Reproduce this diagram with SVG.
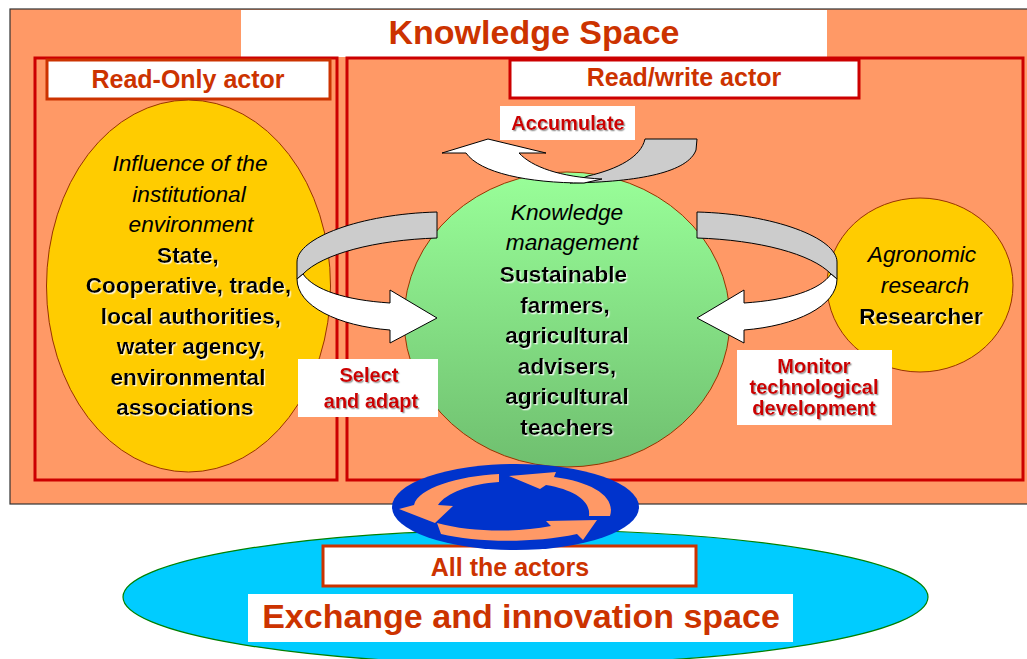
<svg xmlns="http://www.w3.org/2000/svg" width="1027" height="659" viewBox="0 0 1027 659">
<defs>
<linearGradient id="gGreen" x1="0" y1="0" x2="0" y2="1">
<stop offset="0" stop-color="#99FF99"/>
<stop offset="1" stop-color="#6FBF6F"/>
</linearGradient>
<filter id="shGray" x="-10%" y="-20%" width="120%" height="150%">
<feDropShadow dx="1.3" dy="1.3" stdDeviation="0.3" flood-color="#999999" flood-opacity="0.9"/>
</filter>
<filter id="shWhite" x="-10%" y="-20%" width="120%" height="150%">
<feDropShadow dx="1.3" dy="1.3" stdDeviation="0.3" flood-color="#FFFFFF" flood-opacity="0.8"/>
</filter>
</defs>
<style>
text { font-family: "Liberation Sans", Arial, sans-serif; text-anchor: middle; }
.hdr { font-weight: bold; fill: #CC3300; }
.lbl { font-weight: bold; fill: #CC0000; font-size: 20px; filter: url(#shGray); }
.it { font-style: italic; fill: #000; font-size: 22.7px; }
.bd { font-weight: bold; fill: #000; font-size: 22.7px; filter: url(#shWhite); }
.rib { stroke: #000; stroke-width: 1; stroke-linejoin: miter; }
.back { fill: #CCCCCC; }
.front { fill: #FFFFFF; }
.whitebox { fill: #FFFFFF; }
.ring { fill: #FF9966; }
</style>

<g id="knowledge-space">
<rect x="10" y="9" width="1030" height="495" fill="#FF9966" stroke="#333333" stroke-width="1.2"/>
<rect x="241" y="10" width="586" height="47" fill="#FFFFFF"/>
<text x="534" y="44" class="hdr" font-size="34">Knowledge Space</text>
</g>

<g id="read-only-actor">
<rect x="35" y="58" width="302" height="422" fill="none" stroke="#CC0000" stroke-width="3"/>
<rect x="47" y="60" width="283" height="39" fill="#FFFFFF" stroke="#CC3300" stroke-width="3"/>
<text x="188" y="88" class="hdr" font-size="25">Read-Only actor</text>
</g>

<g id="read-write-actor">
<rect x="347" y="58" width="676" height="422" fill="none" stroke="#CC0000" stroke-width="3"/>
<rect x="510" y="60" width="349" height="38" fill="#FFFFFF" stroke="#CC0000" stroke-width="3"/>
<text x="684" y="86" class="hdr" font-size="25">Read/write actor</text>
</g>

<g id="institutional-environment">
<ellipse cx="188.5" cy="286" rx="142" ry="186" fill="#FFCC00" stroke="#993300" stroke-width="1"/>
<text x="190" y="171" class="it">Influence of the</text>
<text x="189" y="201.5" class="it">institutional</text>
<text x="191" y="232" class="it">environment</text>
<text x="188" y="262.5" class="bd">State,</text>
<text x="188.5" y="293" class="bd">Cooperative, trade,</text>
<text x="191" y="323.5" class="bd">local authorities,</text>
<text x="191" y="354" class="bd">water agency,</text>
<text x="188" y="384.5" class="bd">environmental</text>
<text x="185" y="415" class="bd">associations</text>
</g>

<g id="knowledge-management">
<ellipse cx="567" cy="319.5" rx="163" ry="147.5" fill="url(#gGreen)" stroke="#993300" stroke-width="1"/>
<text x="567" y="220" class="it">Knowledge</text>
<text x="572" y="250" class="it">management</text>
<text x="563.5" y="282" class="bd">Sustainable</text>
<text x="565" y="312.5" class="bd">farmers,</text>
<text x="567" y="343" class="bd">agricultural</text>
<text x="567" y="373.5" class="bd">advisers,</text>
<text x="567" y="404" class="bd">agricultural</text>
<text x="567" y="434.5" class="bd">teachers</text>
</g>

<g id="agronomic-research">
<ellipse cx="920" cy="285" rx="93" ry="87" fill="#FFCC00" stroke="#993300" stroke-width="1"/>
<text x="922" y="262" class="it">Agronomic</text>
<text x="925" y="292.5" class="it">research</text>
<text x="921" y="323.5" class="bd">Researcher</text>
</g>

<g id="connectors">
<g id="select-adapt-arrow">
<path class="rib back" d="M 437 212 C 360 214 297 238 297 262 L 297 279 L 303 274 C 322 254 375 240 437 238 Z"/>
<path class="rib front" d="M 297 279 C 297 306 338 326 390 330 L 390 343 L 437 318 L 390 290 L 390 303 C 345 300 314 290 303 274 Z"/>
</g>
<g id="monitor-arrow" transform="translate(1134 0) scale(-1 1)">
<path class="rib back" d="M 437 212 C 360 214 297 238 297 262 L 297 279 L 303 274 C 322 254 375 240 437 238 Z"/>
<path class="rib front" d="M 297 279 C 297 306 338 326 390 330 L 390 343 L 437 318 L 390 290 L 390 303 C 345 300 314 290 303 274 Z"/>
</g>
<g id="accumulate-arrow">
<path class="rib back" d="M 645 139 L 697 139 L 696 150 C 688 172 640 182 570 183 L 588 176 C 618 169 641 157 645 139 Z"/>
<path class="rib front" d="M 442 153 L 488 139 L 546 153 L 519 153 C 532 167 560 177 602 179 L 584 183 C 528 183 480 173 466 153 Z"/>
</g>
</g>

<g id="label-accumulate">
<rect x="500" y="106" width="135" height="34" class="whitebox"/>
<text x="568" y="130" class="lbl">Accumulate</text>
</g>
<g id="label-select-adapt">
<rect x="298" y="359" width="140" height="58" class="whitebox"/>
<text x="369" y="382" class="lbl">Select</text>
<text x="371" y="408" class="lbl">and adapt</text>
</g>
<g id="label-monitor">
<rect x="737" y="350" width="155" height="75" class="whitebox"/>
<text x="814" y="373" class="lbl">Monitor</text>
<text x="814" y="394" class="lbl">technological</text>
<text x="814" y="415" class="lbl">development</text>
</g>

<g id="exchange-space">
<ellipse cx="525.5" cy="597" rx="402.5" ry="67" fill="#00CCFF" stroke="#008000" stroke-width="1.2"/>
<rect x="323" y="546" width="373" height="40" fill="#FFFFFF" stroke="#CC3300" stroke-width="3"/>
<text x="510" y="576" class="hdr" font-size="25">All the actors</text>
<rect x="248" y="594" width="545" height="48" fill="#FFFFFF"/>
<text x="521" y="628" class="hdr" font-size="34">Exchange and innovation space</text>
</g>

<g id="exchange-cycle">
<ellipse cx="515.5" cy="507" rx="123.5" ry="43" fill="#0033CC"/>
<path class="ring" d="M 499 474 C 458 476 418 488 414 505 L 399 509 L 435 523 L 453 506 L 438 505 C 446 493 470 484 499 482 Z"/>
<path class="ring" d="M 610 516 C 616 497 593 482 554 477 L 556 472 L 509 476 L 540 489 L 546 485 C 576 490 591 502 589 516 Z"/>
<path class="ring" d="M 437 523 C 470 532 515 533 551 526 L 546 521 L 597 520 L 583 540 L 577 534 C 530 544 474 542 441 534 Z"/>
</g>
</svg>
